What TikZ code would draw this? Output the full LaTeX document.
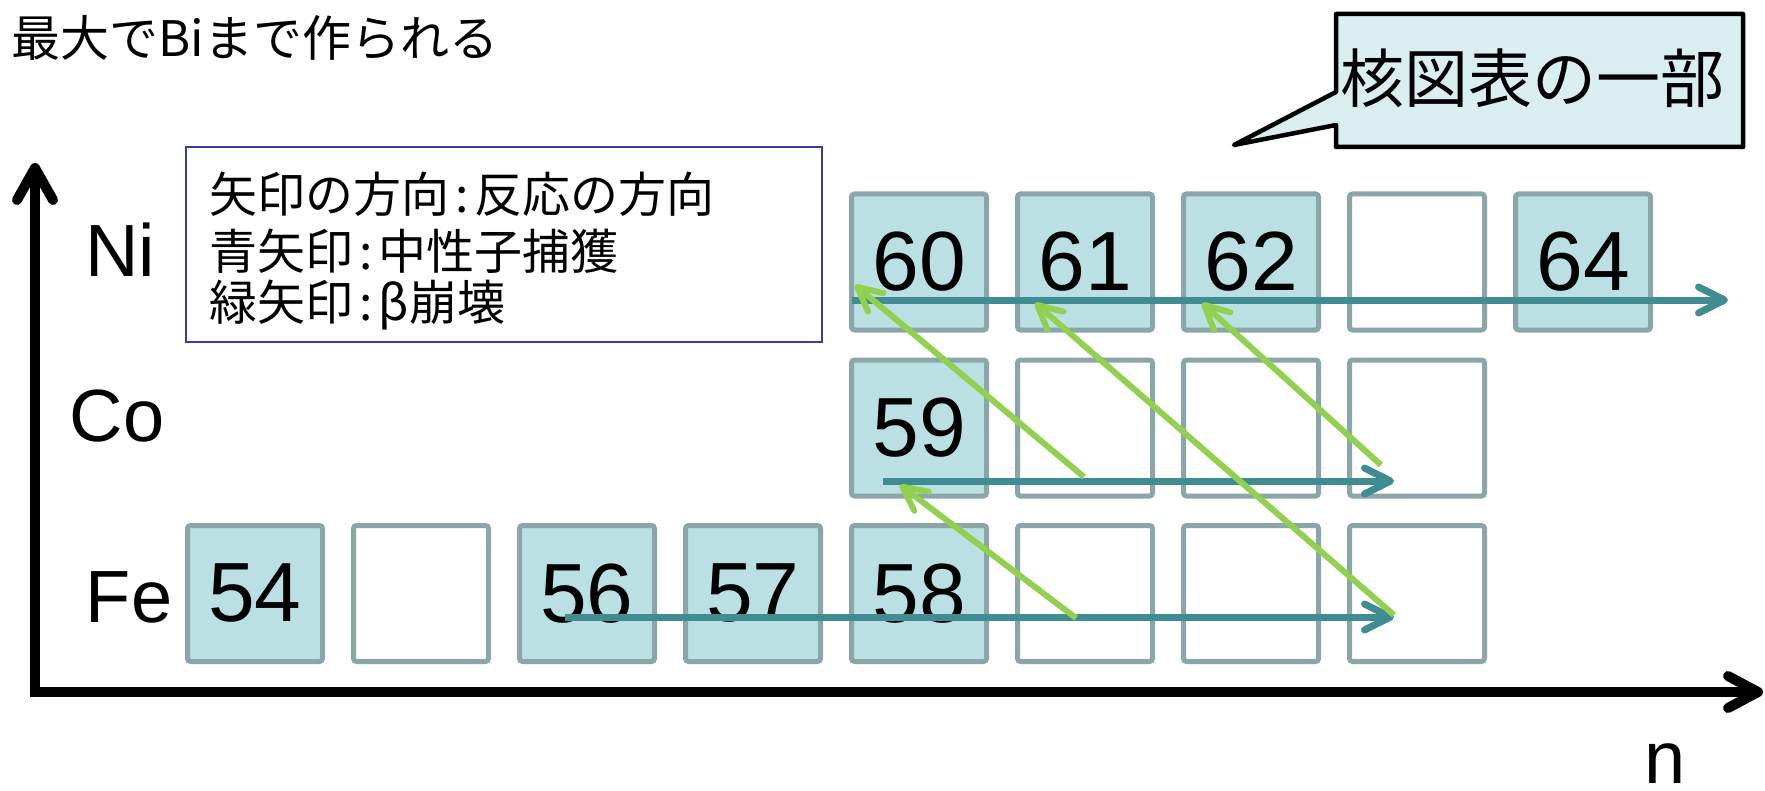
\documentclass[tikz,border=0pt]{standalone}
\usepackage{fontspec}
\setmainfont{Liberation Sans}
\newfontfamily\jp{Noto Sans CJK JP}
\usetikzlibrary{arrows.meta}
\definecolor{boxfill}{HTML}{BBE0E3}
\definecolor{boxdraw}{HTML}{8BA6A9}
\definecolor{nblue}{HTML}{3F8C92}
\definecolor{bgreen}{HTML}{92D050}
\definecolor{callfill}{HTML}{DAEEF0}
\definecolor{legblue}{HTML}{3C3CA0}
\newcommand{\lcolon}{\kern3pt:\kern3pt}
\tikzset{
  nbox/.style={draw=boxdraw, line width=2.5pt, rounded corners=1.5pt, minimum width=67.5pt, minimum height=68pt, inner sep=0pt, font=\fontsize{42}{48}\selectfont},
  full/.style={nbox, fill=boxfill},
  empty/.style={nbox, fill=white},
  elem/.style={inner sep=0pt, font=\fontsize{37}{42}\selectfont},
  axis/.style={line width=5pt, line join=miter, {Straight Barb[length=16pt,width=18pt,line cap=round,line join=round]}-{Straight Barb[length=15pt,width=16pt,line cap=round,line join=round]}},
  ncap/.style={draw=nblue, line width=3.5pt, -{Straight Barb[length=13pt,width=13pt,line cap=round,line join=round]}},
  beta/.style={draw=bgreen, line width=3pt, -{Straight Barb[length=12pt,width=12pt,line cap=round,line join=round]}},
  legtext/.style={inner sep=0pt, anchor=west, font=\jp\fontsize{24}{28}\selectfont},
}
\begin{document}
\begin{tikzpicture}[x=0.5pt,y=-0.5pt]
\useasboundingbox (0,0) rectangle (1765,791);

% title
\node[inner sep=0pt, anchor=west, font=\jp\fontsize{24.5}{29}\selectfont] (title) at (11,38) {最大でBiまで作られる};

% callout
\draw[line width=2.25pt, fill=callfill, line join=round] (1336,14) -- (1743,14) -- (1743,147) -- (1336,147) -- (1336,125) -- (1234,145) -- (1336,92) -- cycle;
\node[inner sep=0pt, font=\jp\fontsize{32}{38}\selectfont] (calltext) at (1532,78) {核図表の一部};

% axes
\coordinate (ytop) at (35,163);
\coordinate (origin) at (35,692);
\coordinate (xend) at (1763,692);
\draw[axis] (ytop) -- (origin) -- (xend);
\node[elem] (nlab) at (1665,764) {n};

% element labels
\node[elem] (ni) at (120,250) {Ni};
\node[elem] (co) at (117,416) {Co};
\node[elem] (fe) at (129,597) {Fe};

% legend
\node[draw=legblue, line width=1pt, fill=white, minimum width=318pt, minimum height=97.5pt, inner sep=0pt] (legend) at (504,244.5) {};
\node[legtext] (leg1) at (209,194) {矢印の方向\lcolon 反応の方向};
\node[legtext] (leg2) at (209,251) {青矢印\lcolon 中性子捕獲};
\node[legtext] (leg3) at (209,305) {緑矢印\lcolon β崩壊};

% Fe row
\node[full]  (fe54) at (255,593.5) {54};
\node[empty] (fe55) at (421,593.5) {};
\node[full]  (fe56) at (587,593.5) {56};
\node[full]  (fe57) at (753,593.5) {57};
\node[full]  (fe58) at (919,593.5) {58};
\node[empty] (fe59) at (1085,593.5) {};
\node[empty] (fe60) at (1251,593.5) {};
\node[empty] (fe61) at (1417,593.5) {};
% Co row
\node[full]  (co59) at (919,428) {59};
\node[empty] (co60) at (1085,428) {};
\node[empty] (co61) at (1251,428) {};
\node[empty] (co62) at (1417,428) {};
% Ni row
\node[full]  (ni60) at (919,262) {60};
\node[full]  (ni61) at (1085,262) {61};
\node[full]  (ni62) at (1251,262) {62};
\node[empty] (ni63) at (1417,262) {};
\node[full]  (ni64) at (1583,262) {64};

% neutron capture arrows
\coordinate (b1s) at (852,300);
\coordinate (b1e) at (1728,300);
\coordinate (b2s) at (883,481);
\coordinate (b2e) at (1394,481);
\coordinate (b3s) at (565,617);
\coordinate (b3e) at (1394,617);
\draw[ncap] (b1s) -- (b1e);
\draw[ncap] (b2s) -- (b2e);
\draw[ncap] (b3s) -- (b3e);

% beta decay arrows
\coordinate (g1s) at (1076,618);
\coordinate (g1e) at (900,485);
\coordinate (g2s) at (1394,615);
\coordinate (g2e) at (1035,303);
\coordinate (g3s) at (1084,477);
\coordinate (g3e) at (855,285);
\coordinate (g4s) at (1381,465);
\coordinate (g4e) at (1202,303);
\draw[beta] (g1s) -- (g1e);
\draw[beta] (g2s) -- (g2e);
\draw[beta] (g3s) -- (g3e);
\draw[beta] (g4s) -- (g4e);
\end{tikzpicture}
\end{document}
